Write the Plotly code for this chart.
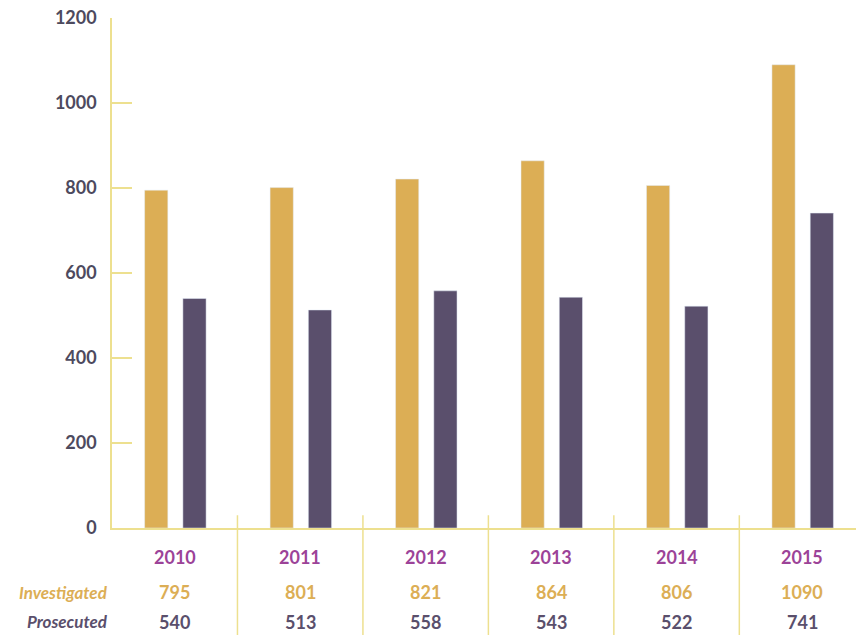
import plotly.graph_objects as go

years = ["2010", "2011", "2012", "2013", "2014", "2015"]
investigated = [795, 801, 821, 864, 806, 1090]
prosecuted = [540, 513, 558, 543, 522, 741]
y_ticks = [0, 200, 400, 600, 800, 1000, 1200]

GOLD = "#DCAE55"
DARK = "#5A4F6C"
PURPLE = "#9C4398"
LINE = "#EDE08F"
FONT = "Lato"

x_idx = list(range(len(years)))

fig = go.Figure()
fig.add_trace(go.Bar(x=x_idx, y=investigated, marker_color=GOLD, width=0.185, offset=-0.24,
                     name="Investigated", hoverinfo="skip"))
fig.add_trace(go.Bar(x=x_idx, y=prosecuted, marker_color=DARK, width=0.185, offset=0.065,
                     name="Prosecuted", hoverinfo="skip"))

# separators between categories
for i in range(len(years) - 1):
    fig.add_shape(type="line", xref="x", yref="paper", x0=i + 0.5, x1=i + 0.5,
                  y0=0.025, y1=-0.21, line=dict(color=LINE, width=1.5))

row_y = {"year": -0.057, "inv": -0.126, "pro": -0.184}
for i, yr in enumerate(years):
    fig.add_annotation(x=i, y=row_y["year"], xref="x", yref="paper", text="<b>%s</b>" % yr,
                       yanchor="middle", showarrow=False, font=dict(family=FONT, size=18, color=PURPLE))
    fig.add_annotation(x=i, y=row_y["inv"], xref="x", yref="paper", text="<b>%d</b>" % investigated[i],
                       yanchor="middle", showarrow=False, font=dict(family=FONT, size=18, color=GOLD))
    fig.add_annotation(x=i, y=row_y["pro"], xref="x", yref="paper", text="<b>%d</b>" % prosecuted[i],
                       yanchor="middle", showarrow=False, font=dict(family=FONT, size=18, color=DARK))

fig.add_annotation(x=-0.003, y=row_y["inv"], xref="paper", yref="paper", xanchor="right",
                   yanchor="middle", text="<b><i>Investigated</i></b>", showarrow=False,
                   font=dict(family=FONT, size=17, color=GOLD))
fig.add_annotation(x=-0.003, y=row_y["pro"], xref="paper", yref="paper", xanchor="right",
                   yanchor="middle", text="<b><i>Prosecuted</i></b>", showarrow=False,
                   font=dict(family=FONT, size=17, color=DARK))

fig.update_layout(
    width=856, height=635,
    margin=dict(l=112, r=0, t=18, b=107),
    paper_bgcolor="white", plot_bgcolor="white",
    showlegend=False,
    xaxis=dict(range=[-0.5, 5.43], showticklabels=False, ticks="", showgrid=False,
               zeroline=False, showline=True, linecolor=LINE, linewidth=1.5),
    yaxis=dict(range=[0, 1200], tickvals=y_ticks, ticktext=["<b>%d</b>" % v for v in y_ticks],
               ticks="inside", ticklen=20, tickcolor=LINE, tickwidth=1.5,
               showgrid=False, zeroline=False, showline=True, linecolor=LINE, linewidth=1.5,
               tickfont=dict(family=FONT, size=18, color="#4D4A5E"), ticklabelstandoff=10),
)

fig.write_html("out.html")
